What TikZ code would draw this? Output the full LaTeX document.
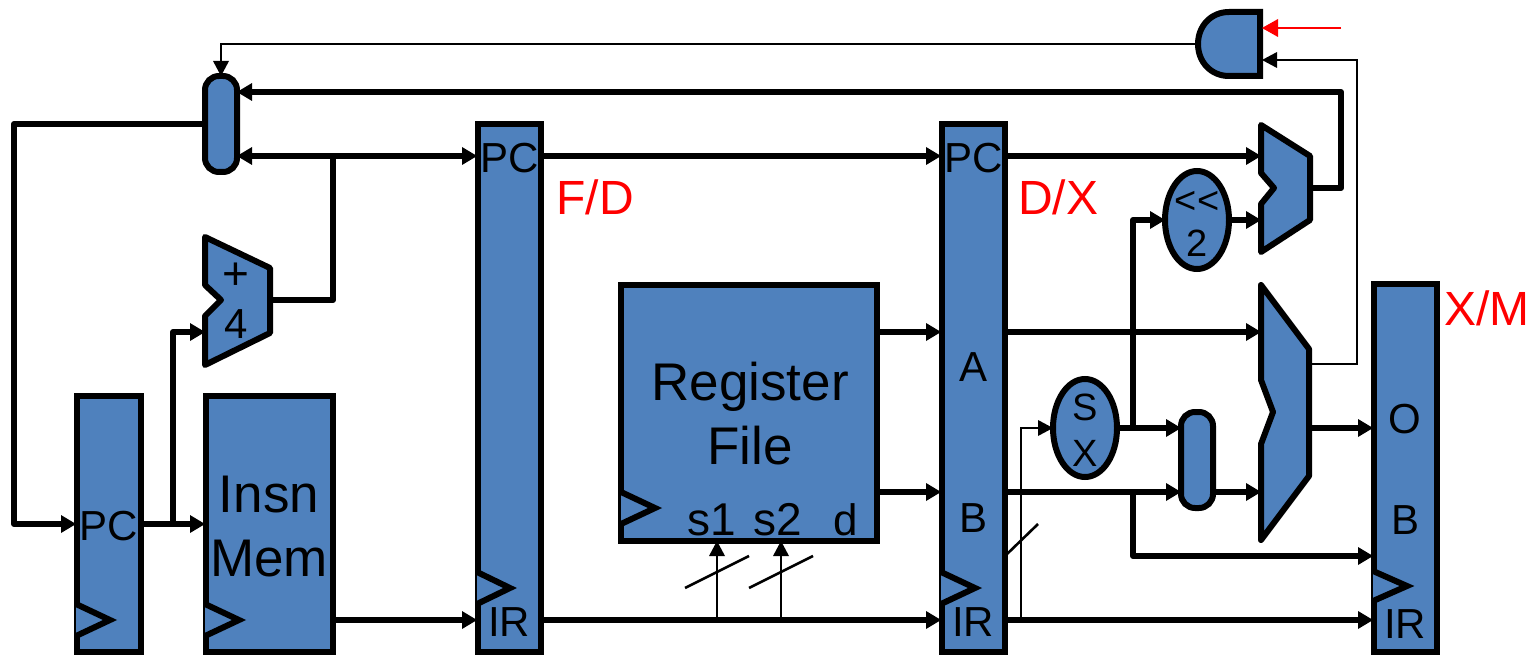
\documentclass[tikz,border=0pt]{standalone}
\usepackage{fontspec}
\setmainfont{Liberation Sans}
\usetikzlibrary{arrows.meta,shapes.geometric}
\definecolor{blk}{HTML}{4F81BD}
\definecolor{redlab}{HTML}{FF0000}
\tikzset{
  x=1pt,y=-1pt,
  part/.style={draw=black,fill=blk,line width=6pt,line join=miter},
  box/.style={part,rectangle,inner sep=0pt,outer sep=0pt,minimum width=#1},
  pill/.style={part,rectangle,rounded corners=14pt,inner sep=0pt,outer sep=0pt,minimum width=32pt,minimum height=96pt},
  oval/.style={part,ellipse,inner sep=0pt,outer sep=0pt,minimum width=64pt,minimum height=98pt},
  shapeline/.style={part,line join=round},
  clk/.style={line width=6pt,line join=miter,fill=blk,draw=black},
  wire/.style={line width=6pt,line join=round,draw=black},
  wirea/.style={wire,-{Triangle[length=15pt,width=18pt,line width=0pt]}},
  thin/.style={line width=2.6pt,line join=miter,draw=black},
  thina/.style={thin,-{Triangle[length=15pt,width=16pt,line width=0pt]}},
  reda/.style={line width=2.8pt,draw=redlab,-{Triangle[length=16pt,width=18pt,line width=0pt]}},
  slash/.style={line width=2.6pt,draw=black},
  lab/.style={inner sep=0pt,outer sep=0pt,text=black,font=\fontsize{42}{42}\selectfont},
  small/.style={lab,font=\fontsize{38}{38}\selectfont},
  biglab/.style={lab,align=center,font=\fontsize{53}{64}\selectfont},
  stage/.style={inner sep=0pt,outer sep=0pt,text=redlab,font=\fontsize{48}{48}\selectfont},
}
\begin{document}
\begin{tikzpicture}
\useasboundingbox (0,0) rectangle (1533,655);
% ports
\coordinate (fbA) at (14,124);
\coordinate (fbB) at (14,524);
\coordinate (pcin) at (76,524);
\coordinate (pcout) at (143,524);
\coordinate (imin) at (205,524);
\coordinate (pcjn) at (173,524);
\coordinate (addup) at (173,332);
\coordinate (addin) at (205,332);
\coordinate (addout) at (270,300);
\coordinate (addel) at (333,300);
\coordinate (addjn) at (333,156);
\coordinate (pilltopin) at (221,76);
\coordinate (pillupin) at (237,92);
\coordinate (pilllowin) at (237,156);
\coordinate (pillout) at (205,124);
\coordinate (fdpc) at (477,156);
\coordinate (fdpco) at (542,156);
\coordinate (fdir) at (477,620);
\coordinate (fdiro) at (542,620);
\coordinate (imo) at (333,620);
\coordinate (dxpc) at (941,156);
\coordinate (dxpco) at (1006,156);
\coordinate (dxir) at (941,620);
\coordinate (dxiro) at (1006,620);
\coordinate (dxa) at (941,332);
\coordinate (dxao) at (1006,332);
\coordinate (dxb) at (941,492);
\coordinate (dxbo) at (1006,492);
\coordinate (rfa) at (878,332);
\coordinate (rfb) at (878,492);
\coordinate (sa) at (717,620);
\coordinate (sat) at (717,541);
\coordinate (sb) at (781,620);
\coordinate (sbt) at (781,541);
\coordinate (xmo) at (1373,428);
\coordinate (xmb) at (1373,556);
\coordinate (xmir) at (1373,620);
\coordinate (umuxa) at (1261,156);
\coordinate (umuxb) at (1261,220);
\coordinate (umuxo) at (1310,188);
\coordinate (umuxe) at (1341,188);
\coordinate (umuxf) at (1341,92);
\coordinate (bmuxa) at (1261,332);
\coordinate (bmuxb) at (1261,492);
\coordinate (bmuxo) at (1309,428);
\coordinate (bmuxz) at (1309,364);
\coordinate (zb) at (1357,364);
\coordinate (zt) at (1357,60);
\coordinate (andb) at (1262,60);
\coordinate (andt) at (1262,28);
\coordinate (ctl) at (1341,28);
\coordinate (ando) at (1197,44);
\coordinate (andel) at (221,44);
\coordinate (sxth) at (1021,620);
\coordinate (sxel) at (1021,428);
\coordinate (bjn) at (1133,492);
\coordinate (bel) at (1133,556);
\coordinate (sxjn) at (1133,428);
\coordinate (slel) at (1133,220);
\coordinate (sla) at (685,588);
\coordinate (slb) at (749,556);
\coordinate (slc) at (749,588);
\coordinate (sld) at (813,556);
\coordinate (sle) at (1006,555);
\coordinate (slf) at (1038,524);
% pipeline boxes
\node[box=64pt,minimum height=256pt] (pcreg) at (109.2,524) {};
\node[box=127pt,minimum height=256pt] (imem) at (269.2,524) {};
\node[box=63pt,minimum height=528pt] (fd) at (509.3,388) {};
\node[box=63pt,minimum height=528pt] (dx) at (973.3,388) {};
\node[box=63pt,minimum height=368pt] (xm) at (1405.3,468) {};
\node[box=256pt,minimum height=256pt] (rf) at (749.3,412.5) {};
% muxes and gates
\draw[shapeline] (205,237) -- (270,268) -- (270,333) -- (205,365) -- (205,316) -- (221,300) -- (205,285) -- cycle;
\draw[shapeline] (1261,125) -- (1310,156) -- (1310,220) -- (1261,252) -- (1261,204) -- (1274,188) -- (1261,173) -- cycle;
\draw[shapeline] (1261,285) -- (1309,349) -- (1309,476) -- (1261,540) -- (1261,444) -- (1273,412) -- (1261,380) -- cycle;
\draw[part] (1260,12) -- (1229,12) .. controls (1211,12) and (1198,26) .. (1198,44) .. controls (1198,62) and (1211,76) .. (1229,76) -- (1260,76) -- cycle;
\node[pill] (pmux) at (221,124) {};
\node[pill] (bpill) at (1197,460) {};
\node[oval] (sx) at (1085,428) {};
\node[oval] (shl) at (1197,220) {};
% clocks
\draw[clk] (76,604) -- (110,620) -- (76,636);
\draw[clk] (205,604) -- (239,620) -- (205,636);
\draw[clk] (477,572) -- (510,588) -- (477,604);
\draw[clk] (941,572) -- (975,588) -- (941,604);
\draw[clk] (1373,571) -- (1407,586) -- (1373,601);
\draw[clk] (621,492) -- (655,508) -- (621,524);
% wires
\draw[wirea] (pillout) -- (fbA) -- (fbB) -- (pcin);
\draw[wirea] (pcout) -- (imin);
\draw[wirea] (pcjn) -- (addup) -- (addin);
\draw[wire] (addout) -- (addel) -- (addjn);
\draw[wirea] (addjn) -- (pilllowin);
\draw[wirea] (addjn) -- (fdpc);
\draw[wirea] (imo) -- (fdir);
\draw[wirea] (fdiro) -- (dxir);
\draw[wirea] (fdpco) -- (dxpc);
\draw[wirea] (rfa) -- (dxa);
\draw[wirea] (rfb) -- (dxb);
\draw[wirea] (dxpco) -- (umuxa);
\draw[wirea] (dxao) -- (bmuxa);
\draw[wirea] (dxbo) -- (bpill.west |- dxbo);
\draw[wirea] (bpill.east |- bmuxb) -- (bmuxb);
\draw[wirea] (bjn) -- (bel) -- (xmb);
\draw[wirea] (dxiro) -- (xmir);
\draw[wirea] (sx.east) -- (bpill.west |- sx.east);
\draw[wirea] (sxjn) -- (slel) -- (shl.west);
\draw[wirea] (shl.east) -- (umuxb);
\draw[wirea] (umuxo) -- (umuxe) -- (umuxf) -- (pillupin);
\draw[wirea] (bmuxo) -- (xmo);
% thin wires
\draw[thina] (sa) -- (sat);
\draw[thina] (sb) -- (sbt);
\draw[thina] (sxth) -- (sxel) -- (sx.west);
\draw[thina] (bmuxz) -- (zb) -- (zt) -- (andb);
\draw[thina] (ando) -- (andel) -- (pilltopin);
\draw[reda] (ctl) -- (andt);
\draw[slash] (sla) -- (slb);
\draw[slash] (slc) -- (sld);
\draw[slash] (sle) -- (slf);
% labels
\node[lab] (t1) at (109,526) {PC};
\node[biglab] (t2) at (269,527) {Insn\\Mem};
\node[lab] (t3) at (510,158) {PC};
\node[lab] (t4) at (509,622) {IR};
\node[lab] (t5) at (974,158) {PC};
\node[lab] (t6) at (973,622) {IR};
\node[lab] (t7) at (973,367) {A};
\node[lab] (t8) at (973,518) {B};
\node[lab] (t9) at (1405,419) {O};
\node[lab] (t10) at (1405,520) {B};
\node[lab] (t11) at (1405,624) {IR};
\node[biglab] (t12) at (750,414) {Register\\File};
\node[lab,font=\fontsize{46}{46}\selectfont] (t13) at (712,520) {s1};
\node[lab,font=\fontsize{46}{46}\selectfont] (t14) at (778,520) {s2};
\node[lab,font=\fontsize{44}{44}\selectfont] (t15) at (846,520) {d};
\node[lab,font=\fontsize{46}{46}\selectfont] (t16) at (236,276) {+};
\node[lab] (t17) at (236,324) {4};
\node[small] (t18) at (1085,407) {S};
\node[small] (t19) at (1085,453) {X};
\node[small] (t20) at (1197,202) {<{}<};
\node[small] (t21) at (1197,243) {2};
\node[stage] (t22) at (595,197) {F/D};
\node[stage] (t23) at (1058,197) {D/X};
\node[stage] (t24) at (1487,308) {X/M};
\end{tikzpicture}
\end{document}
